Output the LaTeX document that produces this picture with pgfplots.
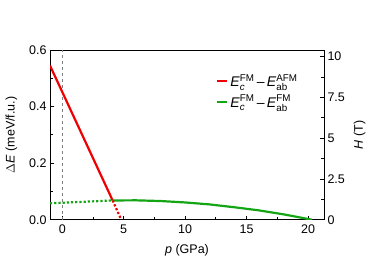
\documentclass[border=0pt]{standalone}
\usepackage{pgfplots}
\pgfplotsset{compat=1.18}
\usepackage{amsmath}
\usepackage{fontspec}
\setmainfont{Liberation Sans}
\definecolor{myred}{RGB}{240,0,0}
\definecolor{mygreen}{RGB}{20,165,20}
\newcommand\supsub[2]{\ensuremath{{}^{\text{#1}}_{\text{#2}}}}
\begin{document}
\begin{tikzpicture}
\pgfplotsset{
  every axis/.append style={
    scale only axis, width=274pt, height=169.7pt,
    font=\fontsize{12.5pt}{15pt}\selectfont,
    /pgf/number format/assume math mode=true,
    axis line style={line width=0.9pt, black},
    tick style={line width=0.8pt, black},
    major tick length=4pt, minor tick length=3pt,
    tick align=inside,
  }
}
\begin{axis}[
  at={(0,0)}, anchor=south west,
  xmin=-1, xmax=21.3, ymin=0, ymax=0.6,
  xtick={0,5,10,15,20}, minor xtick={2.5,7.5,12.5,17.5},
  ytick={0,0.2,0.4,0.6}, minor ytick={0.1,0.3,0.5},
  yticklabels={0.0,0.2,0.4,0.6},
  xtick pos=bottom, ytick pos=left,
  xticklabel style={yshift=-2pt},
  xlabel={\textit{p} (GPa)},
  ylabel={$\Delta$\textit{E} (meV/f.u.)},
  xlabel style={yshift=-3pt},
  ylabel style={yshift=5pt},
  legend style={draw=none, fill=none, at={(0.595,0.88)}, anchor=north west,
    font=\fontsize{14pt}{16pt}\selectfont, row sep=3pt},
  legend image code/.code={\draw[#1, line width=2.2pt] (0cm,0cm) -- (0.35cm,0cm);},
  legend cell align=left,
]
\draw[gray, dashed, line width=0.7pt] (axis cs:0,0) -- (axis cs:0,0.6);
\addplot[myred, line width=2.2pt, no markers] coordinates {(-1,0.545) (4.1,0.068)};
\addlegendentry{\textit{E}\supsub{FM}{\textit{c}}\,\textendash\,\textit{E}\supsub{AFM}{ab}}
\addplot[mygreen, line width=2.2pt, no markers] coordinates {(4.1,0.068) (6,0.0685) (8,0.066) (10,0.061) (12,0.054) (14,0.044) (16,0.033) (18,0.019) (20.3,0.0)};
\addlegendentry{\textit{E}\supsub{FM}{\textit{c}}\,\textendash\,\textit{E}\supsub{FM}{ab}}
\addplot[myred, line width=2.2pt, dotted, no markers, forget plot] coordinates {(4.1,0.068) (4.8,0)};
\addplot[mygreen, line width=2.2pt, dotted, no markers, forget plot] coordinates {(-1,0.058) (4.1,0.068)};
\end{axis}
\begin{axis}[
  at={(0,0)}, anchor=south west,
  xmin=-1, xmax=21.3, ymin=0, ymax=10.4,
  axis x line=none, axis y line*=right,
  ytick={0,2.5,5,7.5,10}, minor ytick={1.25,3.75,6.25,8.75},
  yticklabels={0,2.5,5,7.5,10},
  ylabel={\textit{H} (T)},
  ylabel style={yshift=-2pt},
]
\end{axis}
\pgfresetboundingbox
\useasboundingbox (-50pt,-50pt) rectangle (324pt,219.7pt);
\end{tikzpicture}
\end{document}
